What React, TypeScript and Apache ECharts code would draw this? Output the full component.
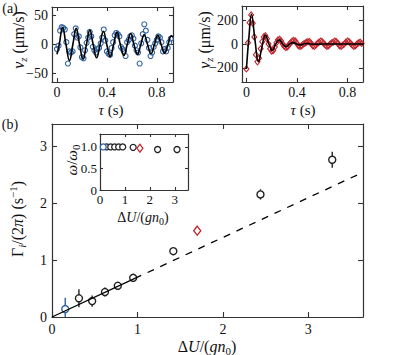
import React, { useEffect, useRef } from "react";
import * as echarts from "echarts";

// ---------- Panel (a), left: blue data and fit ----------
const tauData = [0, 0.0125, 0.025, 0.0375, 0.05, 0.0625, 0.075, 0.0875, 0.1, 0.1125, 0.125, 0.1375, 0.15, 0.1625, 0.175, 0.1875, 0.2, 0.2125, 0.225, 0.2375, 0.25, 0.2625, 0.275, 0.2875, 0.3, 0.3125, 0.325, 0.3375, 0.35, 0.3625, 0.375, 0.3875, 0.4, 0.4125, 0.425, 0.4375, 0.45, 0.4625, 0.475, 0.4875, 0.5, 0.5125, 0.525, 0.5375, 0.55, 0.5625, 0.575, 0.5875, 0.6, 0.6125, 0.625, 0.6375, 0.65, 0.6625, 0.675, 0.6875, 0.7, 0.7125, 0.725, 0.7375, 0.75, 0.7625, 0.775, 0.7875, 0.8, 0.8125, 0.825, 0.8375, 0.85, 0.8625, 0.875, 0.8875, 0.9, 0.9125];
const vBlue = [-8, -2, 24, 30, 29, 26, 4, -33, -12, -14, -12, 18, 28, 12, 14, -5, -22, -24, -10, 3, 12, 22, 14, -4, -10, -14, -8, -6, 2, 12, 26, 7, -12, -16, -18, -6, 4, 16, 20, 18, 14, -4, -8, -12, -20, 4, 8, 14, 16, 10, -2, -10, -14, -33, 2, 18, 35, 24, 8, -6, -20, -14, -4, 2, 8, 14, 12, 4, -12, -8, -12, -6, 4, 10];
const tauFitL = [0, 0.018, 0.045, 0.072, 0.1, 0.127, 0.154, 0.181, 0.209, 0.236, 0.263, 0.29, 0.318, 0.345, 0.372, 0.399, 0.427, 0.454, 0.481, 0.508, 0.536, 0.563, 0.59, 0.617, 0.645, 0.672, 0.699, 0.726, 0.754, 0.781, 0.808, 0.835, 0.863, 0.89, 0.917, 0.93];
const vFitL = [-17, 0, 30, 0, -28, 0, 28, 0, -25, 0, 25, 0, -23, 0, 23, 0, -21, 0, 21, 0, -19, 0, 19, 0, -17, 0, 17, 0, -16, 0, 16, 0, -15, 0, 15, 13];

// ---------- Panel (a), right: red data and fit ----------
const vRed = [-210, 10, 180, 245, 175, 60, -90, -150, -120, -40, 20, 60, 70, 45, 0, -40, -60, -55, -25, 10, 35, 40, 25, 0, -20, -30, -25, -5, 10, 25, 30, 25, 5, -15, -20, -15, 0, 5, 15, 20, 20, 5, -15, -20, -10, 5, 15, 25, 20, 5, -10, -20, -15, 0, 10, 15, 25, 20, 5, -15, -20, -10, 0, 15, 25, 20, 5, -10, -20, -15, 0, 10, 15, 5];
const tauFitR = [0, 0.02, 0.04, 0.068, 0.095, 0.122, 0.15, 0.178, 0.205, 0.232, 0.26, 0.287, 0.315, 0.342, 0.37, 0.397, 0.425, 0.452, 0.48, 0.507, 0.535, 0.6, 0.7, 0.8, 0.93];
const vFitR = [-210, 60, 250, 30, -150, -30, 75, 0, -55, 0, 35, 0, -22, 0, 12, 0, -7, 0, 4, 0, -2, 0, 0, 0, 0];

// ---------- Panel (b) ----------
const blueDU = [0.155];
const blueGamma = [0.14];
const blueErr = [0.2];
const blackDU = [0.315, 0.47, 0.62, 0.77, 0.95, 1.42, 2.44, 3.28];
const blackGamma = [0.33, 0.28, 0.44, 0.55, 0.69, 1.16, 2.16, 2.77];
const blackErr = [0.16, 0.1, 0.08, 0.05, 0.06, 0.03, 0.09, 0.14];
const redDU = [1.7];
const redGamma = [1.52];
const redErr = [0.03];
const fitSolidDU = [0, 0.97];
const fitSolidGamma = [0, 0.68];
const fitDashDU = [0.97, 3.64];
const fitDashGamma = [0.68, 2.55];

// ---------- Inset ----------
const insetBlueDU = [0.13];
const insetBlueW = [1.0];
const insetBlackDU = [0.27, 0.43, 0.59, 0.75, 0.91, 1.33, 2.31, 3.09];
const insetBlackW = [1.0, 1.0, 1.0, 1.0, 1.0, 0.99, 0.94, 0.94];
const insetRedDU = [1.6];
const insetRedW = [0.97];

// ---------- Tick labels ----------
const tauTicks = [0, 0.4, 0.8];
const vTicksL = [-50, 0, 50];
const vTicksR = [-200, 0, 200];
const duTicks = [0, 1, 2, 3];
const gammaTicks = [0, 1, 2, 3];
const wTicks = [0, 0.5, 1.0];

const FONT = "Liberation Serif, DejaVu Serif, serif";
const AX = "#333";
const TXT = "#111";
const BLUE = "#2f62a0";
const RED = "#c0262d";

const minus = (v: number) => String(v).replace("-", "\u2212");

function axisPair(kind: "x" | "y", grid: number, min: number, max: number, ticks: number[], tickLen: number, fs: number, margin: number, fmt: (v: number) => string) {
  const base = (primary: boolean) => ({
    type: "value",
    gridIndex: grid,
    min,
    max,
    position: kind === "x" ? (primary ? "bottom" : "top") : primary ? "left" : "right",
    axisLine: { show: true, onZero: false, lineStyle: { color: AX, width: 1.2 } },
    axisTick: { show: true, inside: true, length: tickLen, customValues: ticks, lineStyle: { color: AX, width: 1.1 } },
    axisLabel: {
      show: primary,
      customValues: ticks,
      margin,
      fontFamily: FONT,
      fontSize: fs,
      color: TXT,
      formatter: fmt,
      showMinLabel: true,
      showMaxLabel: true,
    },
    splitLine: { show: false },
  });
  return [base(true), base(false)];
}

const rich = (fs: number) => {
  const s = Math.round(fs * 0.7);
  return {
    i: { fontStyle: "italic", fontSize: fs, lineHeight: fs + 4, fontFamily: FONT, color: TXT },
    sub: { fontSize: s, lineHeight: s, verticalAlign: "bottom", fontFamily: FONT, color: TXT },
    isub: { fontSize: s, lineHeight: s, fontStyle: "italic", verticalAlign: "bottom", fontFamily: FONT, color: TXT },
    sup: { fontSize: s, lineHeight: s, verticalAlign: "top", fontFamily: FONT, color: TXT },
  };
};

function label(text: string, x: number, y: number, fs: number, rotate = false) {
  return {
    type: "text",
    x,
    y,
    rotation: rotate ? Math.PI / 2 : 0,
    z: 100,
    style: {
      text,
      fontFamily: FONT,
      fontSize: fs,
      lineHeight: fs + 4,
      fill: TXT,
      align: "center",
      verticalAlign: "middle",
      rich: rich(fs),
    },
  };
}

function errBars(xs: number[], ys: number[], es: number[], color: string, xi: number, yi: number) {
  return {
    type: "custom",
    xAxisIndex: xi,
    yAxisIndex: yi,
    clip: true,
    z: 3,
    data: xs.map((x, i) => [x, ys[i], es[i]]),
    encode: { x: 0, y: 1 },
    renderItem: (_p: any, api: any) => {
      const x = api.value(0);
      const y = api.value(1);
      const e = api.value(2);
      const a = api.coord([x, y - e]);
      const b = api.coord([x, y + e]);
      return { type: "line", shape: { x1: a[0], y1: a[1], x2: b[0], y2: b[1] }, style: { stroke: color, lineWidth: 1.4 } };
    },
  };
}

function scatter(xs: number[], ys: number[], color: string, xi: number, yi: number, symbol: string, size: any, bw: number, fill: string) {
  return {
    type: "scatter",
    xAxisIndex: xi,
    yAxisIndex: yi,
    symbol,
    symbolSize: size,
    z: 4,
    silent: true,
    data: xs.map((x, i) => [x, ys[i]]),
    itemStyle: { color: fill, borderColor: color, borderWidth: bw, opacity: 1 },
  };
}

function line(xs: number[], ys: number[], xi: number, yi: number, smooth: any, width: number, type: any = "solid") {
  return {
    type: "line",
    xAxisIndex: xi,
    yAxisIndex: yi,
    symbol: "none",
    smooth,
    z: 5,
    silent: true,
    data: xs.map((x, i) => [x, ys[i]]),
    lineStyle: { color: "#000", width, type },
  };
}

export default function App() {
  const ref = useRef<HTMLDivElement>(null);
  useEffect(() => {
    if (!ref.current) return;
    const chart = echarts.init(ref.current, undefined, { renderer: "svg" });
    const option: any = {
      animation: false,
      backgroundColor: "#fff",
      textStyle: { fontFamily: FONT },
      grid: [
        { left: 52, top: 7, width: 121, height: 75 },
        { left: 242, top: 6, width: 121, height: 76 },
        { left: 52, top: 124, width: 311, height: 193 },
        { left: 100, top: 134, width: 88, height: 56 },
      ],
      xAxis: [
        ...axisPair("x", 0, -0.04, 0.93, tauTicks, 4, 14, 3, (v) => String(v)),
        ...axisPair("x", 1, -0.035, 0.923, tauTicks, 4, 14, 3, (v) => String(v)),
        ...axisPair("x", 2, 0, 3.64, duTicks, 5, 14, 5, (v) => String(v)),
        ...axisPair("x", 3, 0, 3.53, duTicks, 3, 13, 3, (v) => String(v)),
      ],
      yAxis: [
        ...axisPair("y", 0, -65, 65, vTicksL, 4, 14, 4, minus),
        ...axisPair("y", 1, -320, 320, vTicksR, 4, 14, 4, minus),
        ...axisPair("y", 2, 0, 3.4, gammaTicks, 5, 14, 5, (v) => String(v)),
        ...axisPair("y", 3, 0, 1.3, wTicks, 3, 13, 3, (v) => (v === 0 ? "0" : v.toFixed(1))),
      ],
      series: [
        scatter(tauData, vBlue, BLUE, 0, 0, "circle", 5, 1.1, "rgba(255,255,255,0)"),
        line(tauFitL, vFitL, 0, 0, 0.45, 1.6),
        scatter(tauData, vRed, RED, 2, 2, "diamond", [5, 6], 1.1, "rgba(255,255,255,0)"),
        line(tauFitR, vFitR, 2, 2, 0.45, 1.6),
        line(fitSolidDU, fitSolidGamma, 4, 4, false, 1.3),
        line(fitDashDU, fitDashGamma, 4, 4, false, 1.3, [7, 7]),
        errBars(blueDU, blueGamma, blueErr, BLUE, 4, 4),
        errBars(blackDU, blackGamma, blackErr, "#222", 4, 4),
        errBars(redDU, redGamma, redErr, RED, 4, 4),
        scatter(blueDU, blueGamma, BLUE, 4, 4, "circle", 7, 1.4, "#fff"),
        scatter(blackDU, blackGamma, "#222", 4, 4, "circle", 7, 1.4, "#fff"),
        scatter(redDU, redGamma, RED, 4, 4, "diamond", [7, 9], 1.4, "#fff"),
        scatter(insetBlackDU, insetBlackW, "#222", 6, 6, "circle", 6, 1.3, "#fff"),
        scatter(insetBlueDU, insetBlueW, BLUE, 6, 6, "circle", 6, 1.3, "#fff"),
        scatter(insetRedDU, insetRedW, RED, 6, 6, "diamond", [6, 8], 1.3, "#fff"),
      ],
      graphic: [
        label("(a)", 10, 8, 14),
        label("(b)", 10, 124, 14),
        label("{i|v}{isub|z} (μm/s)", 18, 40, 16, true),
        label("{i|v}{isub|z} (μm/s)", 204, 40, 16, true),
        label("{i|τ} (s)", 111, 110, 15),
        label("{i|τ} (s)", 303, 110, 15),
        label("Γ{isub|i}/(2{i|π}) (s{sup|−1})", 17, 219, 16, true),
        label("Δ{i|U}/({i|gn}{sub|0})", 207, 346, 16),
        label("{i|ω}/{i|ω}{sub|0}", 72, 160, 15, true),
        label("Δ{i|U}/({i|gn}{sub|0})", 143, 217, 14),
      ],
    };
    chart.setOption(option);
    return () => chart.dispose();
  }, []);
  return <div ref={ref} style={{ position: "absolute", left: 0, top: 0, width: 415, height: 355 }} />;
}
